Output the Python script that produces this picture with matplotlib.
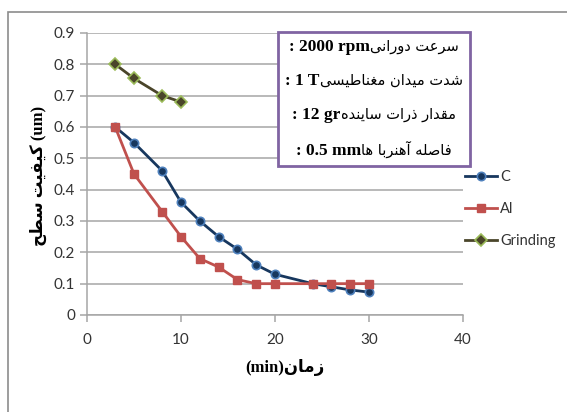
import matplotlib
matplotlib.use("Agg")
import matplotlib.pyplot as plt
from matplotlib.offsetbox import TextArea, HPacker, VPacker, AnnotationBbox
from matplotlib.patches import Rectangle

# ---------------- data ----------------
x_c = [3, 5, 8, 10, 12, 14, 16, 18, 20, 24, 26, 28, 30]
y_c = [0.60, 0.55, 0.46, 0.36, 0.30, 0.25, 0.21, 0.16, 0.13, 0.10, 0.09, 0.08, 0.073]
x_al = [3, 5, 8, 10, 12, 14, 16, 18, 20, 24, 26, 28, 30]
y_al = [0.60, 0.45, 0.33, 0.25, 0.18, 0.153, 0.113, 0.10, 0.10, 0.10, 0.10, 0.10, 0.10]
x_gr = [3, 5, 8, 10]
y_gr = [0.80, 0.755, 0.70, 0.68]
series_names = ["C", "Al", "Grinding"]
x_ticks = [0, 10, 20, 30, 40]
y_ticks = [0, 0.1, 0.2, 0.3, 0.4, 0.5, 0.6, 0.7, 0.8, 0.9]
y_tick_labels = ["0", "0.1", "0.2", "0.3", "0.4", "0.5", "0.6", "0.7", "0.8", "0.9"]
x_label_fa = "زمان"
y_label_fa = "کیفیت سطح"
info_lines = [
    ("2000 rpm", "سرعت دورانی"),
    ("1 T", "شدت میدان مغناطیسی"),
    ("12 gr", "مقدار ذرات ساینده"),
    ("0.5 mm", "فاصله آهنربا ها"),
]

# -------- simple Persian shaping (presentation forms) + visual order --------
FORMS = {
    'ا': ('\uFE8D', '\uFE8E', None, None),
    'آ': ('\uFE81', '\uFE82', None, None),
    'ب': ('\uFE8F', '\uFE90', '\uFE91', '\uFE92'),
    'ت': ('\uFE95', '\uFE96', '\uFE97', '\uFE98'),
    'ح': ('\uFEA1', '\uFEA2', '\uFEA3', '\uFEA4'),
    'د': ('\uFEA9', '\uFEAA', None, None),
    'ذ': ('\uFEAB', '\uFEAC', None, None),
    'ر': ('\uFEAD', '\uFEAE', None, None),
    'ز': ('\uFEAF', '\uFEB0', None, None),
    'س': ('\uFEB1', '\uFEB2', '\uFEB3', '\uFEB4'),
    'ش': ('\uFEB5', '\uFEB6', '\uFEB7', '\uFEB8'),
    'ص': ('\uFEB9', '\uFEBA', '\uFEBB', '\uFEBC'),
    'ط': ('\uFEC1', '\uFEC2', '\uFEC3', '\uFEC4'),
    'ع': ('\uFEC9', '\uFECA', '\uFECB', '\uFECC'),
    'غ': ('\uFECD', '\uFECE', '\uFECF', '\uFED0'),
    'ف': ('\uFED1', '\uFED2', '\uFED3', '\uFED4'),
    'ق': ('\uFED5', '\uFED6', '\uFED7', '\uFED8'),
    'ل': ('\uFEDD', '\uFEDE', '\uFEDF', '\uFEE0'),
    'م': ('\uFEE1', '\uFEE2', '\uFEE3', '\uFEE4'),
    'ن': ('\uFEE5', '\uFEE6', '\uFEE7', '\uFEE8'),
    'ه': ('\uFEE9', '\uFEEA', '\uFEEB', '\uFEEC'),
    'و': ('\uFEED', '\uFEEE', None, None),
    'ی': ('\uFBFC', '\uFBFD', '\uFBFE', '\uFBFF'),
    'ک': ('\uFB8E', '\uFB8F', '\uFB90', '\uFB91'),
}


def shape_fa(s):
    out = []
    n = len(s)
    for i, ch in enumerate(s):
        if ch not in FORMS:
            out.append(ch)
            continue
        f = FORMS[ch]
        prev = s[i - 1] if i > 0 else None
        nxt = s[i + 1] if i < n - 1 else None
        join_prev = prev in FORMS and FORMS[prev][2] is not None
        join_next = nxt in FORMS and f[2] is not None
        if join_prev and join_next:
            out.append(f[3])
        elif join_prev:
            out.append(f[1])
        elif join_next:
            out.append(f[2])
        else:
            out.append(f[0])
    return "".join(out)[::-1]


plt.rcParams['font.family'] = ['Lato', 'DejaVu Sans']

W, H = 567, 412
fig = plt.figure(figsize=(W / 100, H / 100), dpi=100)
fig.patch.set_facecolor('white')

# outer chart border
fig.add_artist(Rectangle((8 / W, -0.05), 1.2, 1 - 12 / H + 0.05, transform=fig.transFigure,
                         fill=False, edgecolor='#8C8C8C', linewidth=1.2))

ax = fig.add_axes([87 / W, 1 - 315 / H, (463 - 87) / W, (315 - 33) / H])
ax.set_xlim(0, 40)
ax.set_ylim(0, 0.9)
ax.set_xticks(x_ticks)
ax.set_xticklabels([str(v) for v in x_ticks])
ax.set_yticks(y_ticks)
ax.set_yticklabels(y_tick_labels)
ax.yaxis.grid(True, color='#A6A6A6', linewidth=1.1)
ax.set_axisbelow(True)
for s in ['top', 'right']:
    ax.spines[s].set_visible(False)
for s in ['left', 'bottom']:
    ax.spines[s].set_color('#A6A6A6')
    ax.spines[s].set_linewidth(1.1)
ax.tick_params(axis='both', colors='#A6A6A6', length=5, width=1.1, direction='out',
               labelcolor='#333333', labelsize=11)
ax.tick_params(axis='x', pad=8)

ax.plot(x_c, y_c, color='#17375E', linewidth=2, marker='o', markersize=6,
        markerfacecolor='#17375E', markeredgecolor='#4F81BD', markeredgewidth=1.2,
        label=series_names[0], zorder=3)
ax.plot(x_al, y_al, color='#C0504D', linewidth=2, marker='s', markersize=6,
        markerfacecolor='#C0504D', markeredgecolor='#C0504D',
        label=series_names[1], zorder=4)
ax.plot(x_gr, y_gr, color='#4A452A', linewidth=2, marker='D', markersize=6,
        markerfacecolor='#4A452A', markeredgecolor='#9BBB59', markeredgewidth=1.2,
        label=series_names[2], zorder=3)

leg = fig.legend(loc='upper left', bbox_to_anchor=(465 / W, 1 - 170 / H), frameon=False,
                 fontsize=10.5, handlelength=2.2, handletextpad=0.2, labelspacing=1.25,
                 borderpad=0, borderaxespad=0)
for t in leg.get_texts():
    t.set_color('#333333')

# axis labels
fig.text(38 / W, 1 - 176 / H, shape_fa(y_label_fa) + " (um)", rotation=90,
         ha='center', va='center', fontsize=12, fontweight='bold',
         family=['Liberation Serif', 'DejaVu Sans'], color='black')
fig.text(285 / W, 1 - 368 / H, "(min)" + shape_fa(x_label_fa),
         ha='center', va='center', fontsize=12, fontweight='bold',
         family=['Liberation Serif', 'DejaVu Sans'], color='black')

# info box
rows = []
for num, fa in info_lines:
    parts = [
        TextArea(": ", textprops=dict(fontsize=12.5, fontweight='bold',
                                       family=['Liberation Serif'], color='black')),
        TextArea(num, textprops=dict(fontsize=12.5, fontweight='bold',
                                      family=['Liberation Serif'], color='black')),
        TextArea(shape_fa(fa), textprops=dict(fontsize=10.5,
                                               family=['DejaVu Sans'], color='black')),
    ]
    rows.append(HPacker(children=parts, align='baseline', pad=0, sep=0))
box = VPacker(children=rows, align='center', pad=0, sep=13)
ab = AnnotationBbox(box, (374 / W, 1 - 99 / H), xycoords='figure fraction',
                    box_alignment=(0.5, 0.5), frameon=True, pad=0.5,
                    bboxprops=dict(edgecolor='#8064A2', linewidth=2, facecolor='white'))
fig.add_artist(ab)
ab.set_zorder(10)

fig.savefig("out.png", dpi=100, facecolor='white')
